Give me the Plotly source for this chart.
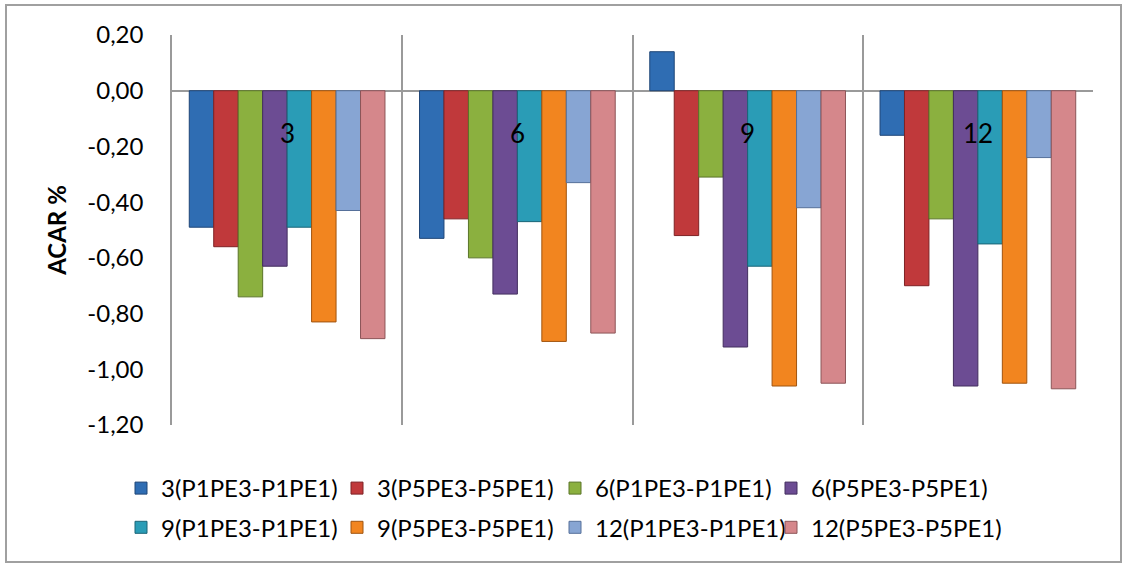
import plotly.graph_objects as go

categories = ["3", "6", "9", "12"]
series_names = [
    "3(P1PE3-P1PE1)", "3(P5PE3-P5PE1)", "6(P1PE3-P1PE1)", "6(P5PE3-P5PE1)",
    "9(P1PE3-P1PE1)", "9(P5PE3-P5PE1)", "12(P1PE3-P1PE1)", "12(P5PE3-P5PE1)",
]
s3_p1 = [-0.49, -0.53, 0.14, -0.16]
s3_p5 = [-0.56, -0.46, -0.52, -0.70]
s6_p1 = [-0.74, -0.60, -0.31, -0.46]
s6_p5 = [-0.63, -0.73, -0.92, -1.06]
s9_p1 = [-0.49, -0.47, -0.63, -0.55]
s9_p5 = [-0.83, -0.90, -1.06, -1.05]
s12_p1 = [-0.43, -0.33, -0.42, -0.24]
s12_p5 = [-0.89, -0.87, -1.05, -1.07]
series_values = [s3_p1, s3_p5, s6_p1, s6_p5, s9_p1, s9_p5, s12_p1, s12_p5]

colors = ["#2f6db3", "#c0393b", "#8bb03f", "#6c4c93", "#2a9cb6", "#f2851f", "#87a5d3", "#d5878b"]
edges = ["#1f4677", "#7e2225", "#5a7428", "#432e5e", "#1a6577", "#a0540f", "#56709a", "#8c5558"]

y_ticks = [0.2, 0.0, -0.2, -0.4, -0.6, -0.8, -1.0, -1.2]
y_ticktext = [f"{v:.2f}".replace(".", ",") for v in y_ticks]
label_y = -0.15

W, H = 1123, 566
ML, MR, MT, MB = 172, 30, 35, 141
FONT = "Lato, 'Open Sans', sans-serif"
GRID = "#9a9a9a"
pw = W - ML - MR
ph = H - MT - MB

legend_ids = ["legend", "legend2", "legend3", "legend4"]
legend_px = [121, 337, 555, 771]  # left edge of each legend column, px

fig = go.Figure()
for k, (name, vals, c, e) in enumerate(zip(series_names, series_values, colors, edges)):
    fig.add_trace(go.Bar(x=categories, y=vals, name=name, legend=legend_ids[k % 4],
                         legendgroup=f"g{k}",
                         marker=dict(color=c, line=dict(color=e, width=1))))

for i, cat in enumerate(categories):
    fig.add_annotation(x=i, y=label_y, xref="x", yref="y", text=cat, showarrow=False,
                       font=dict(family=FONT, size=26, color="#000000"))

# outer chart border
fig.add_shape(type="rect", xref="paper", yref="paper",
              x0=(6 - ML) / pw, x1=(1121 - ML) / pw,
              y0=(H - MB - 562) / ph, y1=(H - MB - 5) / ph,
              line=dict(color="#a0a0a0", width=2), fillcolor="rgba(0,0,0,0)", layer="below")

legend_common = dict(orientation="v", xanchor="left", yanchor="top",
                     y=(H - MB - 466) / ph, tracegroupgap=5,
                     font=dict(family=FONT, size=24, color="#000000"),
                     bgcolor="rgba(0,0,0,0)", traceorder="grouped")
legends = {lid: dict(x=(px - ML) / pw, **legend_common) for lid, px in zip(legend_ids, legend_px)}

fig.update_layout(
    width=W, height=H,
    margin=dict(l=ML, r=MR, t=MT, b=MB, pad=0),
    paper_bgcolor="white", plot_bgcolor="white",
    barmode="group", bargap=0.15, bargroupgap=0.0,
    font=dict(family=FONT, size=24, color="#000000"),
    showlegend=True,
    xaxis=dict(type="category", range=[-0.5, 3.5], tickson="boundaries",
               showgrid=True, gridcolor=GRID, gridwidth=1.5,
               showticklabels=False, ticks="", showline=False, zeroline=False),
    yaxis=dict(range=[-1.2, 0.2], tickvals=y_ticks, ticktext=y_ticktext,
               showgrid=False, zeroline=True, zerolinecolor=GRID, zerolinewidth=1.5,
               showline=True, linecolor=GRID, linewidth=1.5, ticks="",
               ticklabelstandoff=22,
               title=dict(text="<b>ACAR %</b>", font=dict(family=FONT, size=24), standoff=14)),
    **legends,
)

fig.write_html("out.html", config={"displayModeBar": False},
               post_script="document.body.style.margin='0';document.body.style.overflow='hidden';")
